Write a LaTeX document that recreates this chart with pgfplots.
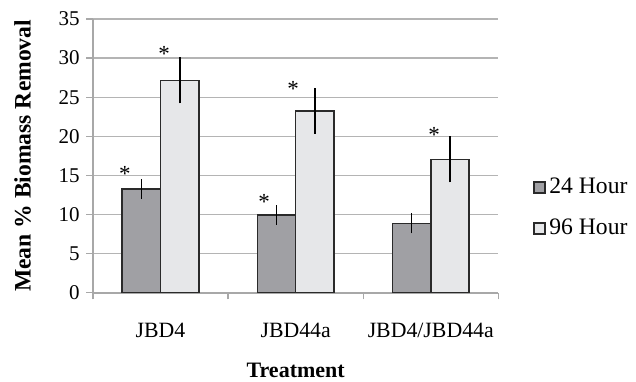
\documentclass[border=0pt]{standalone}
\usepackage{fontspec}
\setmainfont{Liberation Serif}
\usepackage{pgfplots}
\usepackage{pgfplotstable}
\pgfplotsset{compat=1.18}
\definecolor{darkbar}{HTML}{A0A0A4}
\definecolor{lightbar}{HTML}{E6E7E9}
\definecolor{gridgray}{HTML}{B4B4B4}
\definecolor{axisgray}{HTML}{A8A8A8}
\definecolor{edge}{HTML}{2A2A2A}

\pgfplotstableread{
x y err
0 13.27 1.25
1 9.95 1.27
2 8.88 1.28
}\hourA
\pgfplotstableread{
x y err
0 27.15 2.95
1 23.25 2.95
2 17.05 2.95
}\hourB
\pgfplotstableread{
x y dx
0 15.61 -8.3
1 12.08 -6.2
}\starA
\pgfplotstableread{
x y dx
0 30.95 -7.75
1 26.56 -10.8
2 20.68 -7.85
}\starB

\begin{document}
\fontsize{10.6}{12}\selectfont
\begin{tikzpicture}[font=\fontsize{10.6}{12}\selectfont]
\begin{axis}[
  name=ax,
  scale only axis, width=202.65pt, height=136.9pt,
  xmin=-0.5, xmax=2.5, ymin=0, ymax=35,
  axis lines*=left,
  axis line style={-, draw=axisgray, line width=0.8pt},
  xtick={0,1,2}, xticklabels={JBD4,JBD44a,JBD4/JBD44a},
  ytick={0,5,...,35},
  minor xtick={-0.5,0.5,1.5,2.5},
  minor ytick={0,5,...,35},
  major tick length=0pt, minor tick length=3.3pt,
  tick align=outside,
  minor tick style={axisgray, line width=0.7pt},
  ymajorgrids, grid style={gridgray, line width=0.65pt},
  /pgf/number format/assume math mode=true,
  xticklabel style={yshift=-11.6pt, font=\fontsize{10.9}{12}\selectfont},
  yticklabel style={xshift=-3.0pt, font=\fontsize{10.5}{12}\selectfont},
  every axis y label/.style={at={(axis description cs:-0.1537,0.5)}, rotate=90, anchor=base, inner sep=0pt, font=\fontsize{11.8}{13}\selectfont\bfseries},
  every axis x label/.style={at={(axis description cs:0.5,0)}, anchor=base, yshift=-42.4pt, inner sep=0pt, font=\fontsize{11}{13}\selectfont\bfseries},
  ylabel={Mean \% Biomass Removal},
  xlabel={Treatment},
  ybar, bar width=19.15pt,
  legend cell align=left,
  legend image code/.code={\draw[#1, line width=0.7pt] (0pt,-2.75pt) rectangle (5.5pt,2.75pt);},
  legend style={at={(axis description cs:1.0849,0.4200)}, anchor=north west, draw=none, fill=none,
    inner sep=0pt, row sep=11pt, nodes={inner sep=0pt, font=\fontsize{11.8}{13}\selectfont}},
]
\addplot[ybar, bar shift=-9.575pt, fill=darkbar, draw=edge, line width=0.8pt,
  error bars/.cd, y dir=both, y explicit, error mark=none,
  error bar style={black, line width=0.85pt}]
  table[x=x, y=y, y error=err]{\hourA};
\addlegendentry{\,24 Hour}
\addplot[ybar, bar shift=9.575pt, fill=lightbar, draw=edge, line width=0.8pt,
  error bars/.cd, y dir=both, y explicit, error mark=none,
  error bar style={black, line width=0.85pt}]
  table[x=x, y=y, y error=err]{\hourB};
\addlegendentry{\,96 Hour}
\addplot[ybar, bar shift=-9.575pt, draw=none, fill=none, forget plot,
  nodes near coords={*},
  visualization depends on={\thisrow{dx} \as \dx},
  every node near coord/.append style={anchor=base, xshift=\dx pt, yshift=-5.6pt, inner sep=0pt, text=black, font=\fontsize{11.5}{13}\selectfont}]
  table[x=x, y=y]{\starA};
\addplot[ybar, bar shift=9.575pt, draw=none, fill=none, forget plot,
  nodes near coords={*},
  visualization depends on={\thisrow{dx} \as \dx},
  every node near coord/.append style={anchor=base, xshift=\dx pt, yshift=-5.6pt, inner sep=0pt, text=black, font=\fontsize{11.5}{13}\selectfont}]
  table[x=x, y=y]{\starB};
\end{axis}
\pgfresetboundingbox
\path ([xshift=-46.5pt, yshift=-44.6pt]ax.south west) rectangle ([xshift=68.85pt, yshift=9.5pt]ax.north east);
\end{tikzpicture}
\end{document}
